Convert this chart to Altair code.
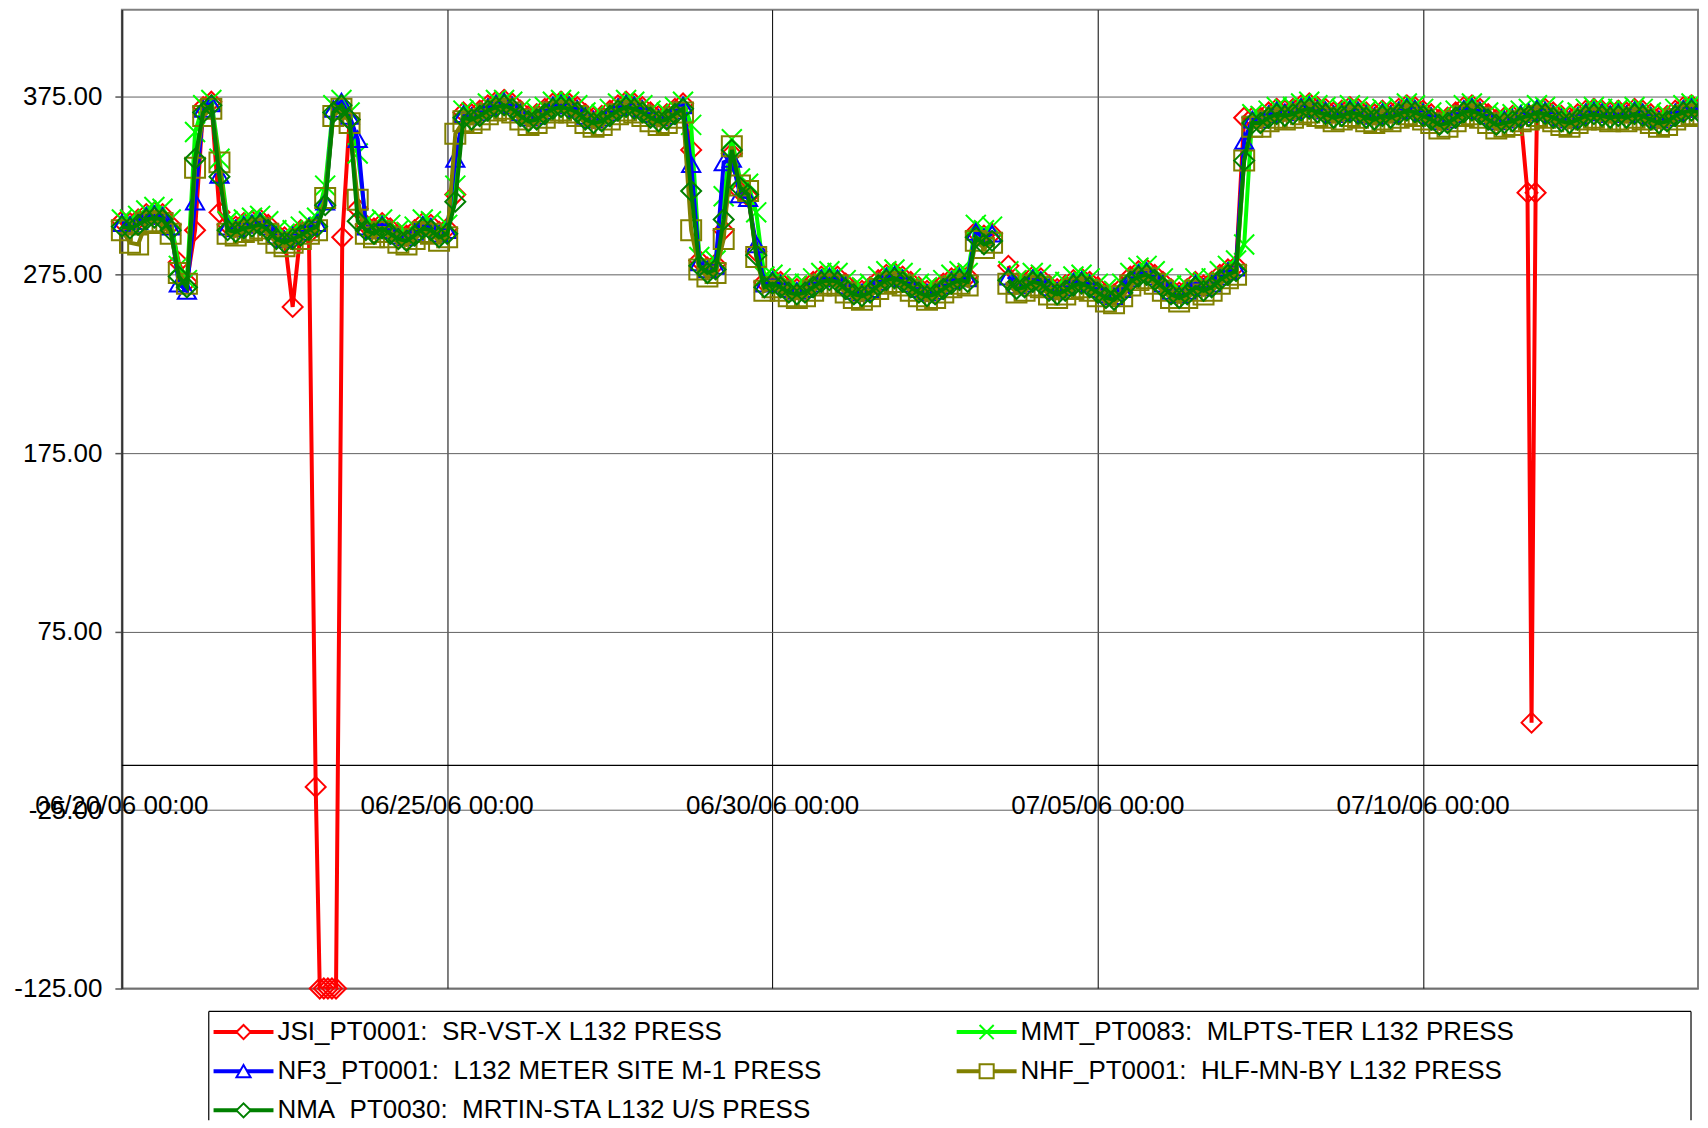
import altair as alt
import pandas as pd

# ---------------- data (3-hour steps from 06/20/06 00:00) ----------------
START = "2006-06-20T00:00:00"
STEP_HOURS = 3

JSI = [
    305, 304, 306, 309, 310, 309, 303, 282,
    271, 300, 369, 372, 310, 303, 302, 304,
    305, 306, 303, 298, 296, 257, 300, 298,
    -12, -125, -125, 296, 362, 312, 303, 301,
    304, 301, 298, 297, 300, 304, 303, 299,
    301, 320, 366, 365, 367, 370, 372, 373,
    371, 367, 364, 365, 368, 371, 372, 371,
    369, 365, 363, 364, 367, 370, 372, 371,
    369, 366, 364, 365, 368, 371, 345, 283,
    279, 281, 300, 343, 322, 319, 288, 271,
    273, 271, 268, 267, 268, 271, 274, 275,
    274, 270, 267, 266, 268, 272, 275, 276,
    274, 271, 268, 266, 267, 270, 273, 275,
    274, 299, 297, 298, None, 280, 270, 271,
    274, 273, 269, 267, 269, 272, 273, 271,
    268, 265, 264, 268, 274, 277, 278, 275,
    271, 267, 265, 267, 271, 269, 271, 275,
    278, 280, 363, 363, 363, 366, 368, 367,
    368, 370, 371, 369, 368, 366, 367, 369,
    368, 366, 365, 367, 366, 368, 370, 369,
    367, 365, 362, 363, 366, 369, 370, 368,
    365, 362, 363, 364, 363, 24, 366, 368,
    366, 364, 363, 365, 367, 368, 367, 366,
    367, 366, 368, 367, 365, 363, 364, 367,
    369, 370, 369,
]
# JSI readings taken between the 3-hour steps around its two drop-outs (hour, value)
JSI_DIP_1 = [(71.5, -12), (73, -125), (74.5, -125), (76, -125), (77.5, -125),
             (79, -125), (81.3, 296)]
JSI_DIP_2 = [(518.5, 321), (520, 24), (521.5, 321)]

MMT = [
    306, 306, 308, 311, 313, 312, 306, 280,
    272, 355, 370, 373, 340, 305, 304, 306,
    307, 308, 305, 300, 298, 300, 302, 305,
    307, 325, 370, 373, 366, 343, 305, 303,
    306, 303, 300, 299, 302, 306, 305, 301,
    303, 325, 367, 366, 368, 371, 373, 373,
    372, 368, 365, 366, 369, 372, 373, 372,
    370, 366, 364, 365, 368, 371, 373, 372,
    370, 367, 365, 366, 369, 372, 359, 285,
    281, 283, 319, 351, 329, 326, 310, 274,
    275, 273, 270, 269, 270, 273, 276, 277,
    276, 272, 269, 268, 270, 274, 277, 278,
    276, 273, 270, 268, 269, 272, 275, 277,
    276, 303, 300, 302, None, 277, 272, 273,
    276, 275, 271, 269, 271, 274, 275, 273,
    270, 267, 266, 270, 276, 279, 280, 277,
    273, 269, 267, 269, 273, 271, 273, 277,
    280, 283, 292, 365, 364, 367, 369, 368,
    369, 371, 372, 370, 369, 367, 368, 370,
    369, 367, 366, 368, 367, 369, 371, 370,
    368, 366, 363, 364, 367, 370, 371, 369,
    366, 363, 364, 365, 367, 368, 370, 369,
    367, 365, 364, 366, 368, 369, 368, 367,
    368, 367, 369, 368, 366, 364, 365, 368,
    370, 371, 370,
]

NF3 = [
    304, 303, 305, 308, 309, 308, 302, 270,
    266, 316, 368, 371, 331, 302, 301, 303,
    304, 305, 302, 297, 295, 297, 299, 302,
    304, 316, 368, 372, 364, 351, 302, 300,
    303, 300, 297, 296, 299, 303, 302, 298,
    300, 340, 365, 364, 366, 369, 371, 372,
    370, 366, 363, 364, 367, 370, 371, 370,
    368, 364, 362, 363, 366, 369, 371, 370,
    368, 365, 363, 364, 367, 370, 337, 282,
    278, 280, 338, 340, 320, 318, 292, 270,
    272, 270, 267, 266, 267, 270, 273, 274,
    273, 269, 266, 265, 267, 271, 274, 275,
    273, 270, 267, 265, 266, 269, 272, 274,
    273, 299, 296, 298, None, 274, 269, 270,
    273, 272, 268, 266, 268, 271, 272, 270,
    267, 264, 263, 267, 273, 276, 277, 274,
    270, 266, 264, 266, 270, 268, 270, 274,
    277, 279, 350, 362, 362, 365, 367, 366,
    367, 369, 370, 368, 367, 365, 366, 368,
    367, 365, 364, 366, 365, 367, 369, 368,
    366, 364, 361, 362, 365, 368, 369, 367,
    364, 361, 362, 363, 365, 366, 368, 367,
    365, 363, 362, 364, 366, 367, 366, 365,
    366, 365, 367, 366, 364, 362, 363, 366,
    368, 369, 368,
]

NHF = [
    300, 293, 292, 304, 305, 304, 298, 276,
    270, 335, 364, 368, 338, 298, 297, 299,
    300, 301, 298, 293, 291, 293, 295, 298,
    300, 318, 364, 368, 360, 317, 298, 296,
    299, 296, 293, 292, 295, 299, 298, 294,
    296, 354, 361, 360, 362, 365, 367, 368,
    366, 362, 359, 360, 363, 366, 367, 366,
    364, 360, 358, 359, 362, 365, 367, 366,
    364, 361, 359, 360, 363, 366, 300, 278,
    274, 276, 295, 347, 325, 322, 285, 266,
    268, 266, 263, 262, 263, 266, 269, 270,
    269, 265, 262, 261, 263, 267, 270, 271,
    269, 266, 263, 261, 262, 265, 268, 270,
    269, 294, 290, 293, None, 270, 265, 266,
    269, 268, 264, 262, 264, 267, 268, 266,
    263, 260, 259, 263, 269, 272, 273, 270,
    266, 262, 260, 262, 266, 264, 266, 270,
    273, 275, 339, 358, 358, 361, 363, 362,
    363, 365, 366, 364, 363, 361, 362, 364,
    363, 361, 360, 362, 361, 363, 365, 364,
    362, 360, 357, 358, 361, 364, 365, 363,
    360, 357, 358, 359, 361, 362, 364, 363,
    361, 359, 358, 360, 362, 363, 362, 361,
    362, 361, 363, 362, 360, 358, 359, 362,
    364, 365, 364,
]

NMA = [
    302, 301, 303, 306, 307, 306, 300, 274,
    268, 340, 366, 370, 330, 300, 299, 301,
    302, 303, 300, 295, 293, 295, 297, 300,
    302, 314, 366, 370, 362, 305, 300, 298,
    301, 298, 295, 294, 297, 301, 300, 296,
    298, 316, 363, 362, 364, 367, 369, 370,
    368, 364, 361, 362, 365, 368, 369, 368,
    366, 362, 360, 361, 364, 367, 369, 368,
    366, 363, 361, 362, 365, 368, 322, 280,
    276, 278, 306, 345, 324, 320, 286, 268,
    270, 268, 265, 264, 265, 268, 271, 272,
    271, 267, 264, 263, 265, 269, 272, 273,
    271, 268, 265, 263, 264, 267, 270, 272,
    271, 296, 292, 294, None, 272, 267, 268,
    271, 270, 266, 264, 266, 269, 270, 268,
    265, 262, 261, 265, 271, 274, 275, 272,
    268, 264, 262, 264, 268, 266, 268, 272,
    275, 277, 339, 360, 360, 363, 365, 364,
    365, 367, 368, 366, 365, 363, 364, 366,
    365, 363, 362, 364, 363, 365, 367, 366,
    364, 362, 359, 360, 363, 366, 367, 365,
    362, 359, 360, 361, 363, 364, 366, 365,
    363, 361, 360, 362, 364, 365, 364, 363,
    364, 363, 365, 364, 362, 360, 361, 364,
    366, 367, 366,
]

NAMES = [
    "JSI_PT0001:  SR-VST-X L132 PRESS",
    "MMT_PT0083:  MLPTS-TER L132 PRESS",
    "NF3_PT0001:  L132 METER SITE M-1 PRESS",
    "NHF_PT0001:  HLF-MN-BY L132 PRESS",
    "NMA_PT0030:  MRTIN-STA L132 U/S PRESS",
]
VALUES = [JSI, MMT, NF3, NHF, NMA]
EXTRA = {0: [JSI_DIP_1, JSI_DIP_2]}
COLORS = ["#FF0000", "#00FF00", "#0000FF", "#808000", "#008000"]
X_PATH = "M-1,-1L1,1M-1,1L1,-1"
SHAPES = ["diamond", X_PATH, "triangle-up", "square", "diamond"]
SIZES = [400, 400, 330, 400, 400]

Y_TICKS = [-125, -25, 75, 175, 275, 375]
X_TICKS = ["2006-06-20", "2006-06-25", "2006-06-30", "2006-07-05", "2006-07-10"]

for v in VALUES:
    assert len(v) == 195, len(v)

# ---------------- build tables ----------------
t0 = pd.Timestamp(START)
EDGE_HOUR = 24 * 24  # markers after this are clipped at the plot's right border
rows = []
for k, (name, vals) in enumerate(zip(NAMES, VALUES)):
    pts = []  # (hour, value or None)
    clusters = EXTRA.get(k, [])
    for i, v in enumerate(vals):
        h = STEP_HOURS * i
        if any(c[0][0] <= h <= c[-1][0] for c in clusters):
            continue
        pts.append((h, v))
    for c in clusters:
        pts.extend(c)
    pts.sort(key=lambda p: p[0])
    seg = 0
    for h, v in pts:
        if v is None:
            seg += 1
            continue
        t = t0 + pd.Timedelta(hours=h)
        rows.append({"series": name, "t": t.strftime("%Y-%m-%dT%H:%M:%S"),
                     "value": v, "seg": seg, "edge": h > EDGE_HOUR})
df = pd.DataFrame(rows)

tick_df = pd.DataFrame({
    "t": [pd.Timestamp(d).strftime("%Y-%m-%dT%H:%M:%S") for d in X_TICKS],
    "label": [pd.Timestamp(d).strftime("%m/%d/%y %H:%M") for d in X_TICKS],
})

# ---------------- main plot ----------------
W, H = 1578, 980
FONT = "Liberation Sans"

x_scale = alt.Scale(domain=[alt.DateTime(year=2006, month=6, date=20),
                            alt.DateTime(year=2006, month=7, date=14, hours=5, minutes=24)])
y_scale = alt.Scale(domain=[-125, 423.59], nice=False, zero=False)

x_axis = alt.Axis(values=[alt.DateTime(year=int(d[:4]), month=int(d[5:7]), date=int(d[8:]))
                          for d in X_TICKS],
                  grid=True, gridColor="#000000", gridWidth=1,
                  labels=False, ticks=False, domain=False, title=None)
y_axis = alt.Axis(values=Y_TICKS, grid=True, gridColor="#606060",
                  labelExpr="replace(format(datum.value, '.2f'), '\u2212', '-')",
                  gridWidth=1, tickSize=7, tickColor="#555555", tickWidth=1.5,
                  labelFontSize=26, labelFont=FONT, labelColor="#000000",
                  labelPadding=13, domainColor="#333333", domainWidth=2, title=None)

X = alt.X("t:T", scale=x_scale, axis=x_axis)
Y = alt.Y("value:Q", scale=y_scale, axis=y_axis)

zero_rule = alt.Chart(pd.DataFrame({"v": [0]})).mark_rule(color="#000000", strokeWidth=1.2).encode(
    y=alt.Y("v:Q", scale=y_scale, axis=y_axis)
)
x_labels = alt.Chart(tick_df).mark_text(
    baseline="top", align="center", dy=28, fontSize=26, font=FONT, color="#000000"
).encode(x=X, y=alt.datum(0), text="label:N")

layers = [zero_rule, x_labels]
for name, color, shape, size in zip(NAMES, COLORS, SHAPES, SIZES):
    base = alt.Chart(df).transform_filter(alt.datum.series == name)
    layers.append(base.mark_line(color=color, strokeWidth=4, clip=True).encode(
        x=X, y=Y, detail="seg:N"))
    layers.append(base.transform_filter("!datum.edge").mark_point(
        shape=shape, filled=False, color=color, size=size, strokeWidth=2, opacity=1
    ).encode(x=X, y=Y))
    layers.append(base.transform_filter("datum.edge").mark_point(
        shape=shape, filled=False, color=color, size=size, strokeWidth=2, opacity=1,
        clip=True
    ).encode(x=X, y=Y))

main = alt.layer(*layers).properties(
    width=W, height=H,
    view=alt.ViewBackground(stroke="#808080", strokeWidth=2),
)

# ---------------- legend ----------------
LW, LH = W, 109
COL_MARK = [121.8, 865.8]
ROW0, ROW_STEP = 20.6, 39.2
leg_rows = []
for k, name in enumerate(NAMES):
    col, row = k % 2, k // 2
    m = COL_MARK[col]
    leg_rows.append({"name": name, "label": name.replace("  ", " \u00a0"),
                     "lx0": m - 30, "lx1": m + 30, "mx": m, "tx": m + 34,
                     "ry": ROW0 + ROW_STEP * row})
leg_df = pd.DataFrame(leg_rows)
frame_df = pd.DataFrame({"x0": [87, 87, W - 7], "x1": [W - 7, 87, W - 7],
                         "y0": [0, 0, 0], "y1": [0, LH, LH]})

lx = alt.Scale(domain=[0, LW], nice=False, zero=False)
ly = alt.Scale(domain=[0, LH], nice=False, zero=False, reverse=True)
c_scale = alt.Scale(domain=NAMES, range=COLORS)
s_scale = alt.Scale(domain=NAMES, range=SHAPES)

frame = alt.Chart(frame_df).mark_rule(color="#000000", strokeWidth=1.2).encode(
    x=alt.X("x0:Q", scale=lx, axis=None), x2="x1:Q",
    y=alt.Y("y0:Q", scale=ly, axis=None), y2="y1:Q")
leg_lines = alt.Chart(leg_df).mark_rule(strokeWidth=4).encode(
    x=alt.X("lx0:Q", scale=lx, axis=None), x2="lx1:Q",
    y=alt.Y("ry:Q", scale=ly, axis=None),
    color=alt.Color("name:N", scale=c_scale, legend=None))
leg_pts = alt.Chart(leg_df).mark_point(filled=True, size=200, strokeWidth=2, opacity=1).encode(
    x=alt.X("mx:Q", scale=lx, axis=None),
    y=alt.Y("ry:Q", scale=ly, axis=None),
    fill=alt.value("white"),
    stroke=alt.Stroke("name:N", scale=c_scale, legend=None),
    shape=alt.Shape("name:N", scale=s_scale, legend=None))
leg_text = alt.Chart(leg_df).mark_text(
    align="left", baseline="middle", fontSize=26, font=FONT, color="#000000", clip=True
).encode(x=alt.X("tx:Q", scale=lx, axis=None),
         y=alt.Y("ry:Q", scale=ly, axis=None), text="label:N")

legend = alt.layer(frame, leg_lines, leg_pts, leg_text).properties(width=LW, height=LH)

chart = alt.vconcat(main, legend, spacing=23, bounds="flush").properties(
    padding={"left": 4, "top": 0, "right": 0, "bottom": 0},
    background="white",
).configure_view(stroke=None)

chart.save("out.html", embed_options={"renderer": "svg", "actions": False})
